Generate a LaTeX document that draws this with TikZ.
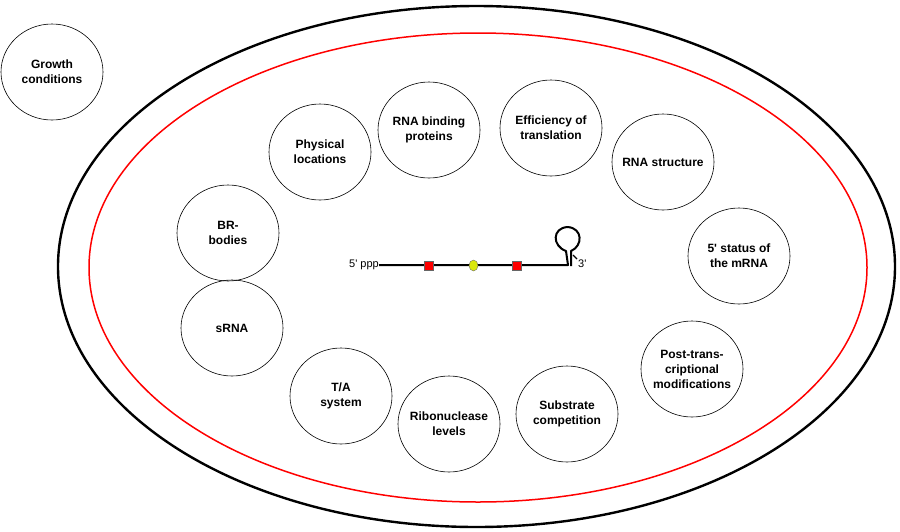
\documentclass[tikz,border=0pt]{standalone}
\usepackage{fontspec}
\setmainfont{Liberation Sans}
\usetikzlibrary{shapes.geometric}
\newcommand{\apos}{\textquotesingle}
\tikzset{
  factor/.style={draw, ellipse, line width=0.6pt, minimum width=102pt, minimum height=96pt,
    inner xsep=-15pt, inner ysep=0pt, align=center, font=\bfseries\fontsize{12}{15}\selectfont},
  site/.style={draw=black!60, fill=red, line width=0.4pt, minimum size=9pt, inner sep=0pt},
  strand/.style={line width=2pt, line join=round}
}

\begin{document}
\begin{tikzpicture}[x=1pt, y=-1pt]
		\useasboundingbox (0,0) rectangle (900,531);
		\draw[line width=2.4pt] (476.5,266.5) ellipse [x radius=418.5, y radius=260.5];
		\draw[red, line width=1.5pt] (478,267.5) ellipse [x radius=389, y radius=234.5];
		%
		\node[factor] (growth) at (52,72) {Growth\\conditions};
		\node[factor] (phys) at (320,152) {Physical\\locations};
		\node[factor] (rbp) at (429,130) {RNA binding\\proteins};
		\node[factor] (trans) at (551,128) {Efficiency of\\translation};
		\node[factor] (struct) at (663,162) {RNA structure};
		\node[factor] (status) at (739,256) {5\apos{} status of\\the mRNA};
		\node[factor] (ptm) at (692,369) {Post-trans-\\criptional\\modifications};
		\node[factor] (subst) at (567,414) {Substrate\\competition};
		\node[factor] (rnase) at (449,424) {Ribonuclease\\levels};
		\node[factor] (ta) at (341,396) {T/A\\system};
		\node[factor] (srna) at (232,328) {sRNA};
		\node[factor] (br) at (228,233) {BR-\\bodies};
		%
		\node[anchor=east, inner sep=0pt, font=\fontsize{11}{13}\selectfont] (five) at (379,265) {5\apos{} ppp};
		\coordinate (stemL) at (568,265);
		\coordinate (stemR) at (571,266);
		\draw[strand] (five.east) -- (stemL) -- (566,251)
			.. controls (552,246) and (552,228) .. (567.5,227)
			.. controls (583,228) and (583,246) .. (571,251) -- (stemR);
		\draw[line width=1.2pt] (573,255) -- (577,259);
		\node[anchor=west, inner sep=0pt, font=\fontsize{11}{13}\selectfont] (three) at (578,264) {3\apos};
		\node[site] (sq1) at (428.5,266) {};
		\node[draw=black!60, fill=yellow!85!green, ellipse, line width=0.4pt, minimum width=9pt,
			minimum height=11pt, inner sep=0pt] (cap) at (473.5,265.5) {};
		\node[site] (sq2) at (516.5,266) {};
	\end{tikzpicture}
\end{document}
